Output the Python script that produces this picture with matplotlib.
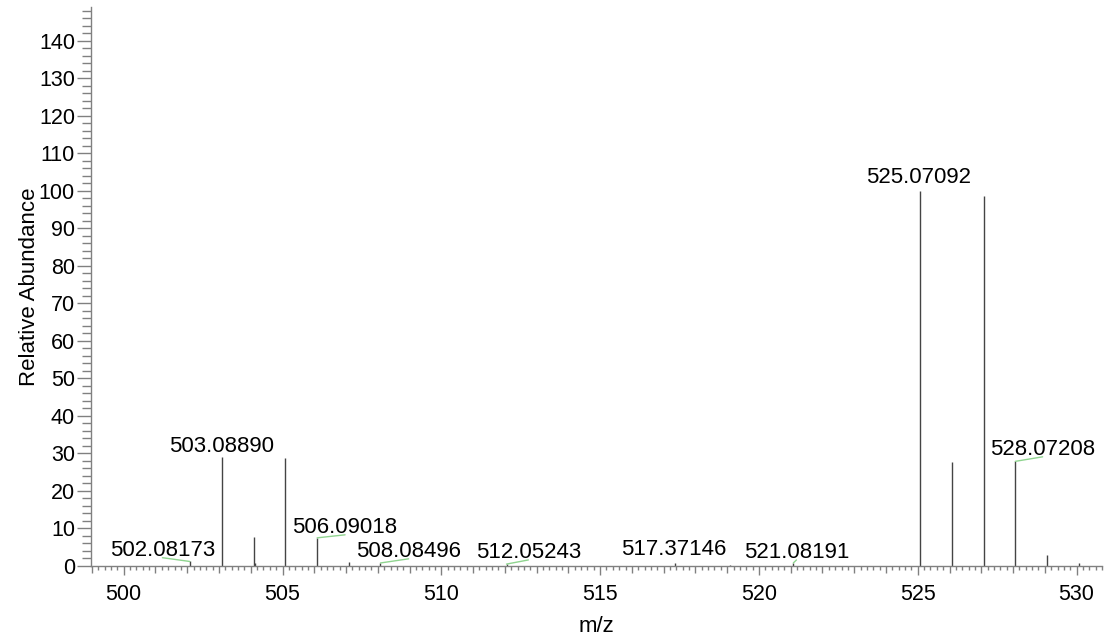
import matplotlib
matplotlib.use("Agg")
import matplotlib.pyplot as plt

plt.rcParams['font.family'] = ['Liberation Sans', 'DejaVu Sans']

# peak list (m/z, relative abundance)
mz = [502.08173, 503.08890, 504.09, 504.13, 505.08, 506.09018, 507.09,
      508.08496, 512.05243, 517.37146, 519.08, 521.08191, 525.07092,
      526.07, 527.07, 528.07208, 529.07, 530.07]
abundance = [1.2, 29.0, 7.6, 0.9, 28.8, 7.5, 1.1,
             0.8, 0.5, 0.9, 0.3, 0.8, 100.0,
             27.6, 98.6, 27.9, 3.0, 0.8]

# labelled peaks and where their text sits (x centre, baseline)
label_mz = [502.08173, 503.08890, 506.09018, 508.08496, 512.05243,
            517.37146, 521.08191, 525.07092, 528.07208]
label_x = [501.22, 503.09, 506.97, 508.97, 512.74, 517.32, 521.18, 525.01, 528.93]
label_y = [2.7, 30.4, 8.8, 2.4, 2.1, 2.9, 2.1, 102.1, 29.6]
label_leader = [True, False, True, True, True, False, True, False, True]

fig = plt.figure(figsize=(11.08, 6.43), dpi=100)
ax = fig.add_axes([0.0821, 0.1198, 0.9125, 0.869])

ax.vlines(mz, 0, abundance, color='#444444', lw=1)

for m, tx, ty, lead in zip(label_mz, label_x, label_y, label_leader):
    h = abundance[mz.index(m)]
    txt = '%.5f' % m
    if lead:
        ax.annotate(txt, xy=(m, h), xytext=(tx, ty), ha='center', va='baseline',
                    fontsize=16,
                    arrowprops=dict(arrowstyle='-', color='#8fd48f', lw=1,
                                    shrinkA=0, shrinkB=0, patchA=None,
                                    relpos=(0.5, 0.15)))
    else:
        ax.text(tx, ty, txt, ha='center', va='baseline', fontsize=16)

ax.set_xlim(498.97, 530.72)
ax.set_ylim(0, 149)

# x ticks: every unit, labels every 5, minor every 0.2
xt = list(range(499, 531))
ax.set_xticks(xt)
ax.set_xticklabels([str(v) if v % 5 == 0 else '' for v in xt])
ax.set_xticks([499 + 0.2 * i for i in range(160) if i % 5 != 0], minor=True)
ax.tick_params(axis='x', which='major', length=4.7, width=1, color='#808080',
               labelsize=15.5, pad=8)
ax.tick_params(axis='x', which='minor', length=3.2, width=1, color='#808080')
for tick, v in zip(ax.xaxis.get_major_ticks(), xt):
    if v % 5 == 0:
        tick.tick1line.set_markersize(6.8)

# y ticks
ax.set_yticks(range(0, 141, 10))
ax.set_yticks([v for v in range(0, 149, 2) if v % 10 != 0], minor=True)
ax.tick_params(axis='y', which='major', length=10, width=1, color='#808080',
               labelsize=15.5, pad=1.5)
ax.tick_params(axis='y', which='minor', length=6.5, width=1, color='#808080')

for s in ['top', 'right']:
    ax.spines[s].set_visible(False)
for s in ['left', 'bottom']:
    ax.spines[s].set_color('#808080')
    ax.spines[s].set_linewidth(1)

ax.set_xlabel('m/z', fontsize=16, labelpad=8.5)
ax.set_ylabel('Relative Abundance', fontsize=16, labelpad=-1)

fig.savefig('out.png', dpi=100)
